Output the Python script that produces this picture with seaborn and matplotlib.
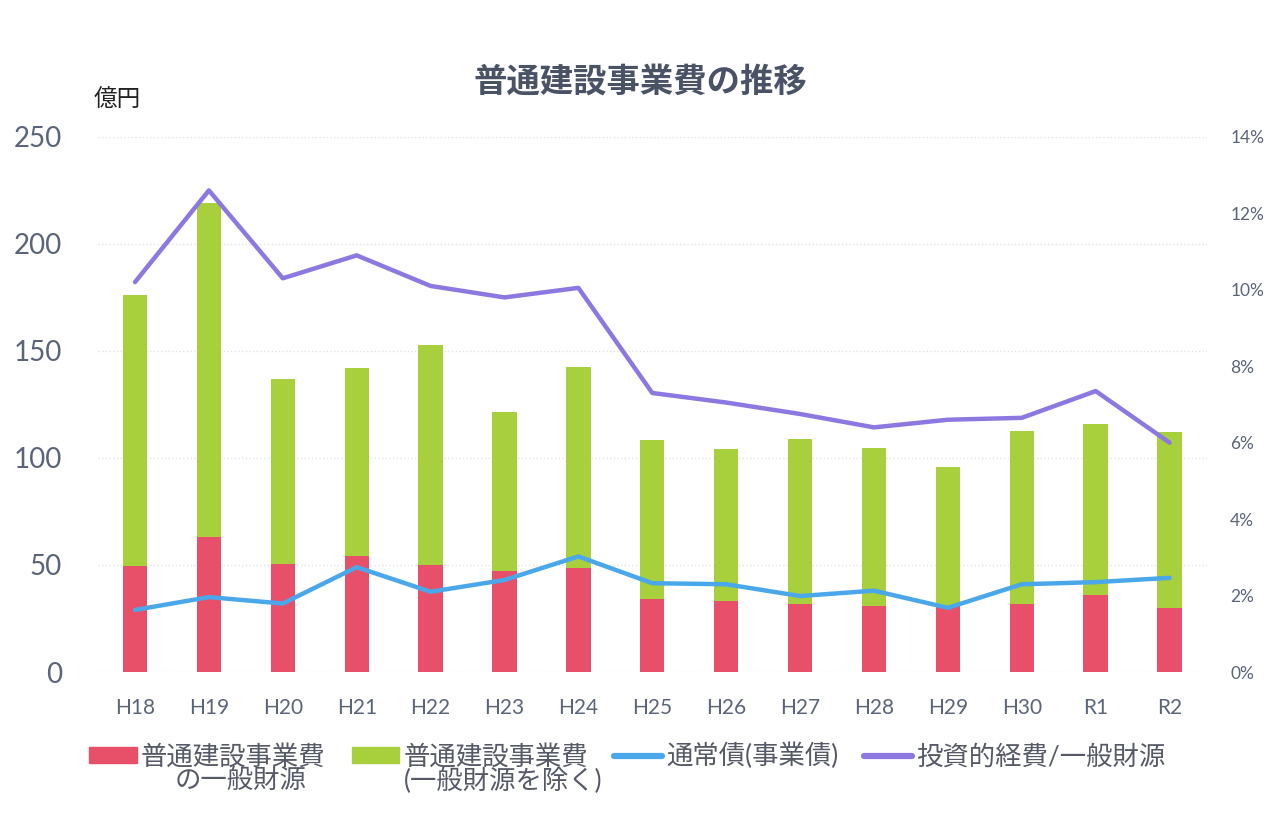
import numpy as np
import pandas as pd
import seaborn as sns
import matplotlib.pyplot as plt
from matplotlib.patches import Patch
from matplotlib.lines import Line2D
from matplotlib.ticker import PercentFormatter

years = ['H18', 'H19', 'H20', 'H21', 'H22', 'H23', 'H24', 'H25',
         'H26', 'H27', 'H28', 'H29', 'H30', 'R1', 'R2']
# 普通建設事業費 合計 (億円)
total = [176, 219, 137, 142, 153, 121.5, 142.5, 108.5, 104, 109, 104.5, 96, 112.5, 116, 112]
# うち一般財源 (億円)
general = [49.5, 63, 50.5, 54, 50, 47, 48.5, 34, 33, 32, 31, 31, 32, 36, 30]
# 通常債(事業債) (億円)
bonds = [29, 35, 32, 49, 37.5, 43, 54, 41.5, 41, 35.5, 38, 30, 41, 42, 44]
# 投資的経費/一般財源 (%)
ratio = [10.2, 12.6, 10.3, 10.9, 10.1, 9.8, 10.05, 7.3, 7.05, 6.75, 6.4, 6.6, 6.65, 7.35, 6.0]

labels = ['普通建設事業費', '普通建設事業費', '通常債(事業債)', '投資的経費/一般財源']
sublabels = ['の一般財源', '(一般財源を除く)']

df = pd.DataFrame({'year': years, 'total': total, 'general': general,
                   'bonds': bonds, 'ratio': ratio, 'pos': np.arange(len(years))})

red = '#E8506A'
green = '#A8CF3C'
blue = '#4AA8EA'
purple = '#8C78E0'
txt = '#5B6478'
legtxt = '#555A66'

sns.set_theme(style='white')
plt.rcParams['font.family'] = ['Lato', 'Noto Sans CJK JP', 'DejaVu Sans']

fig = plt.figure(figsize=(12.8, 8.31), dpi=100)
ax = fig.add_axes([0.0766, 0.1913, 0.866, 0.644])

# 積み上げ棒: 合計(緑)の上に一般財源(赤)を重ねる
sns.barplot(data=df, x='year', y='total', color=green, width=0.33,
            saturation=1, linewidth=0, ax=ax)
sns.barplot(data=df, x='year', y='general', color=red, width=0.33,
            saturation=1, linewidth=0, ax=ax)
sns.lineplot(data=df, x='pos', y='bonds', color=blue, lw=3.2, ax=ax)

ax.set_ylim(0, 250)
ax.set_xlim(-0.5, len(years) - 0.5)
ax.set_yticks([0, 50, 100, 150, 200, 250])
ax.set_xticks(np.arange(len(years)))
ax.set_xticklabels(years)
ax.grid(axis='y', color='#E2E2E2', ls=':', lw=1)
ax.tick_params(axis='y', labelsize=20, colors=txt, length=0, pad=26)
ax.tick_params(axis='x', labelsize=15, colors=txt, length=0, pad=19)
ax.set_xlabel('')
ax.set_ylabel('')
for s in ax.spines.values():
    s.set_visible(False)

ax2 = ax.twinx()
sns.lineplot(data=df, x='pos', y='ratio', color=purple, lw=3.2, ax=ax2)
ax2.set_ylim(0, 14)
ax2.set_yticks(range(0, 15, 2))
ax2.yaxis.set_major_formatter(PercentFormatter(decimals=0))
ax2.tick_params(axis='y', labelsize=12.5, colors=txt, length=0, pad=17)
ax2.set_ylabel('')
for s in ax2.spines.values():
    s.set_visible(False)

fig.text(0.5, 0.901, '普通建設事業費の推移', ha='center', va='center',
         fontsize=24, fontweight='bold', color='#4A5266',
         family=['Noto Sans CJK JP'])
fig.text(0.073, 0.879, '億円', ha='left', va='center', fontsize=17,
         color='#222222', family=['Noto Sans CJK JP'])

handles = [Patch(color=red), Patch(color=green),
           Line2D([], [], color=blue, lw=4.5), Line2D([], [], color=purple, lw=4.5)]
leg = fig.legend(handles, labels, loc='upper center', bbox_to_anchor=(0.49, 0.122),
                 ncol=4, frameon=False, fontsize=19, handlelength=1.8,
                 handleheight=0.5, handletextpad=0.15, columnspacing=1.0,
                 labelcolor=legtxt, borderpad=0)

# 凡例の2行目は1行目の下に中央揃えで置く
fig.canvas.draw()
inv = fig.transFigure.inverted()
for t, sub in zip(leg.get_texts()[:2], sublabels):
    bb = t.get_window_extent().transformed(inv)
    fig.text((bb.x0 + bb.x1) / 2 + 0.006, bb.y0 + 0.002, sub, ha='center', va='top',
             fontsize=19, color=legtxt)

fig.savefig('out.png', dpi=100)
